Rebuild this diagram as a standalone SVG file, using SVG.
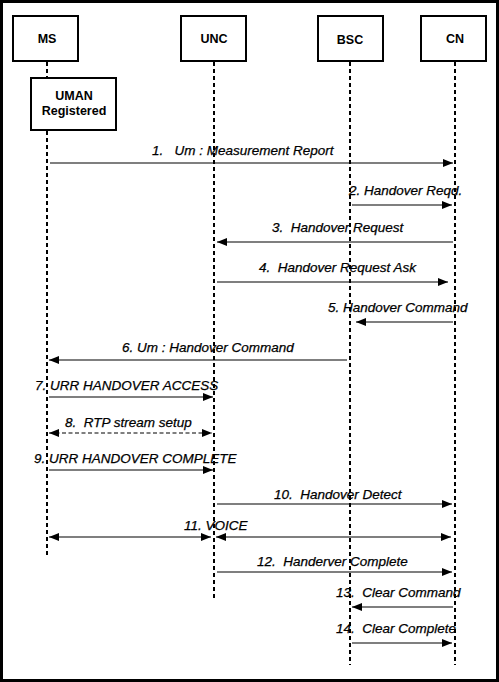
<svg xmlns="http://www.w3.org/2000/svg" width="499" height="682" viewBox="0 0 499 682">
<style>
.box{fill:#fff;stroke:#000;stroke-width:2}
.life{stroke:#000;stroke-width:2;stroke-dasharray:4 3;fill:none}
.hdr{font-family:"Liberation Sans",Arial,sans-serif;font-weight:bold;font-size:12.5px;text-anchor:middle;fill:#000}
.msg{stroke:#000;stroke-width:1.2;fill:none;marker-end:url(#ah)}
.dbl{marker-start:url(#ah)}
.dash{stroke-dasharray:4 2.5}
.lbl{font-family:"Liberation Sans",Arial,sans-serif;font-style:italic;font-size:13.5px;fill:#000;stroke:#000;stroke-width:0.25}
</style>
<defs>
<marker id="ah" markerUnits="userSpaceOnUse" markerWidth="10" markerHeight="8" refX="10" refY="4" orient="auto-start-reverse">
<path d="M0,0 L10,4 L0,8 z" fill="#000"/>
</marker>
</defs>
<rect x="0" y="0" width="499" height="682" fill="#fff"/>
<rect x="1.5" y="1.5" width="496" height="679" fill="none" stroke="#000" stroke-width="3"/>
<g id="lifelines">
<line class="life" x1="47" y1="62" x2="47" y2="78"/>
<line class="life" x1="47" y1="131" x2="47" y2="558"/>
<line class="life" x1="214" y1="62" x2="214" y2="598"/>
<line class="life" x1="350" y1="62" x2="350" y2="665"/>
<line class="life" x1="455" y1="62" x2="455" y2="665"/>
</g>
<g id="MS"><rect class="box" x="13" y="16" width="65" height="45"/><text class="hdr" x="47" y="43">MS</text></g>
<g id="UNC"><rect class="box" x="181" y="16" width="65" height="45"/><text class="hdr" x="214" y="43">UNC</text></g>
<g id="BSC"><rect class="box" x="318" y="16" width="65" height="45"/><text class="hdr" x="350" y="44">BSC</text></g>
<g id="CN"><rect class="box" x="421" y="16" width="65" height="45"/><text class="hdr" x="455" y="43">CN</text></g>
<g id="UMAN"><rect class="box" x="31" y="78" width="85" height="52"/><text class="hdr" x="74" y="100">UMAN</text><text class="hdr" x="74" y="115">Registered</text></g>
<g id="connectors">
<line class="msg" x1="50" y1="163" x2="453" y2="163"/>
<line class="msg" x1="352" y1="205" x2="452" y2="205"/>
<line class="msg" x1="453" y1="242" x2="217" y2="242"/>
<line class="msg" x1="217" y1="282" x2="448" y2="282"/>
<line class="msg" x1="453" y1="322" x2="356" y2="322"/>
<line class="msg" x1="347" y1="360" x2="49" y2="360"/>
<line class="msg" x1="49" y1="397" x2="213" y2="397"/>
<line class="msg dbl dash" x1="49" y1="433" x2="212" y2="433"/>
<line class="msg" x1="49" y1="470" x2="213" y2="470"/>
<line class="msg" x1="217" y1="504" x2="452" y2="504"/>
<line class="msg dbl" x1="49" y1="537" x2="211" y2="537"/>
<line class="msg dbl" x1="216" y1="537" x2="451" y2="537"/>
<line class="msg" x1="217" y1="572" x2="452" y2="572"/>
<line class="msg" x1="453" y1="607" x2="352" y2="607"/>
<line class="msg" x1="352" y1="643" x2="452" y2="643"/>
</g>
<g id="labels">
<text class="lbl" x="152" y="155" xml:space="preserve">1.   Um : Measurement Report</text>
<text class="lbl" x="349" y="195">2. Handover Reqd.</text>
<text class="lbl" x="272" y="232" xml:space="preserve">3.  Handover Request</text>
<text class="lbl" x="259" y="272" xml:space="preserve">4.  Handover Request Ask</text>
<text class="lbl" x="328" y="312">5. Handover Command</text>
<text class="lbl" x="122" y="352">6. Um : Handover Command</text>
<text class="lbl" x="35" y="390">7. URR HANDOVER ACCESS</text>
<text class="lbl" x="65" y="427" xml:space="preserve">8.  RTP stream setup</text>
<text class="lbl" x="34" y="463">9. URR HANDOVER COMPLETE</text>
<text class="lbl" x="274" y="499" xml:space="preserve">10.  Handover Detect</text>
<text class="lbl" x="184" y="530">11. VOICE</text>
<text class="lbl" x="257" y="566" xml:space="preserve">12.  Handerver Complete</text>
<text class="lbl" x="336" y="597" xml:space="preserve">13.  Clear Command</text>
<text class="lbl" x="336" y="633" xml:space="preserve">14.  Clear Complete</text>
</g>
</svg>
